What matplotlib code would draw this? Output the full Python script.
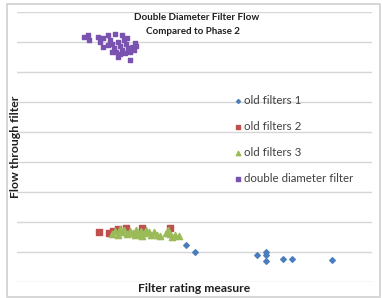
import matplotlib
matplotlib.use("Agg")
import matplotlib.pyplot as plt
from matplotlib.patches import Rectangle

plt.rcParams['font.family'] = ['Lato', 'DejaVu Sans']

# Data (arbitrary units)
old1_x = [47.6, 50.1, 67.6, 70.1, 70.1, 70.1, 74.9, 77.5, 88.7]
old1_y = [1.23, 1.00, 0.90, 1.00, 0.90, 0.70, 0.77, 0.77, 0.73]

old2_x = [23.1, 25.9, 27.0, 30.7, 35.2, 43.1, 28.5]
old2_y = [1.67, 1.63, 1.70, 1.80, 1.80, 1.80, 1.77]

old3_x = [26.8, 27.6, 28.5, 29.3, 30.1, 31.0, 31.8, 32.7, 33.5, 34.4, 34.9, 35.8,
          36.3, 37.2, 37.7, 38.6, 39.4, 40.3, 29.0, 33.2, 35.2, 42.0, 43.1, 44.5,
          45.6, 42.5, 43.7]
old3_y = [1.60, 1.70, 1.57, 1.67, 1.73, 1.60, 1.70, 1.63, 1.73, 1.60, 1.70, 1.63,
          1.73, 1.67, 1.57, 1.67, 1.57, 1.53, 1.77, 1.57, 1.53, 1.63, 1.60, 1.57,
          1.53, 1.73, 1.50]

dd_x = [18.9, 20.0, 20.3, 22.8, 23.4, 24.2, 25.6, 27.6, 29.6, 24.2, 25.6, 28.5,
        30.4, 31.8, 32.4, 33.2, 26.2, 26.8, 27.3, 27.9, 28.5, 29.0, 29.6, 30.1,
        30.7, 31.3, 31.8, 26.8, 29.0, 30.9, 32.9, 33.5]
dd_y = [8.17, 8.23, 8.07, 8.17, 8.00, 8.13, 8.23, 8.27, 8.23, 7.83, 7.90, 7.50,
        7.63, 7.40, 7.83, 7.97, 8.07, 7.93, 7.80, 7.67, 8.00, 7.87, 7.73, 8.07,
        7.93, 7.80, 7.67, 7.67, 7.60, 8.13, 7.73, 7.87]

labels = ["old filters 1", "old filters 2", "old filters 3", "double diameter filter"]
title_lines = ["Double Diameter Filter Flow", "Compared to Phase 2"]
xlabel = "Filter rating measure"
ylabel = "Flow through filter"

W, H = 382, 298
fig = plt.figure(figsize=(W / 100, H / 100), dpi=100)
fig.patch.set_facecolor('white')

# outer frame
fig.add_artist(Rectangle((7 / W, 1 - 297 / H), 373 / W, 293 / H, transform=fig.transFigure,
                         fill=False, edgecolor='#d0d0d0', linewidth=1.2))

ax = fig.add_axes([17 / W, 1 - 282 / H, 355 / W, 270 / H])
ax.set_xlim(0, 100)
ax.set_ylim(0, 9)
ax.set_yticks(range(0, 10))
ax.set_xticks([])
ax.tick_params(left=False, labelleft=False, bottom=False, labelbottom=False)
ax.grid(axis='y', color='#d6d6d6', linewidth=1.0)
for s in ax.spines.values():
    s.set_visible(False)
ax.set_axisbelow(True)

ax.scatter(old1_x, old1_y, marker='D', s=8, color='#4a7ebb', label=labels[0], zorder=3)
ax.scatter(old2_x, old2_y, marker='s', s=16, color='#c0504d', label=labels[1], zorder=3)
ax.scatter(old3_x, old3_y, marker='^', s=20, color='#9bbb59', label=labels[2], zorder=4)
ax.scatter(dd_x, dd_y, marker='s', s=10, color='#7a52b0', label=labels[3], zorder=3)

leg = ax.legend(loc='upper left', bbox_to_anchor=(0.59, 0.715), frameon=False,
                fontsize=8.3, labelspacing=1.3, handletextpad=0.05, handlelength=1.0,
                borderpad=0, markerscale=0.7)
for t in leg.get_texts():
    t.set_color('#404040')

fig.text(197 / W, 1 - 17 / H, title_lines[0], ha='center', va='center', fontsize=7.1,
         fontweight='bold', color='#202020')
fig.text(193 / W, 1 - 31 / H, title_lines[1], ha='center', va='center', fontsize=7.1,
         fontweight='bold', color='#202020')
fig.text(194 / W, 1 - 288 / H, xlabel, ha='center', va='center', fontsize=8.7,
         fontweight='bold', color='#202020')
fig.text(16 / W, 1 - 147 / H, ylabel, ha='center', va='center', rotation=90,
         fontsize=8.8, fontweight='bold', color='#202020')

fig.savefig('out.png', dpi=100, facecolor='white')
